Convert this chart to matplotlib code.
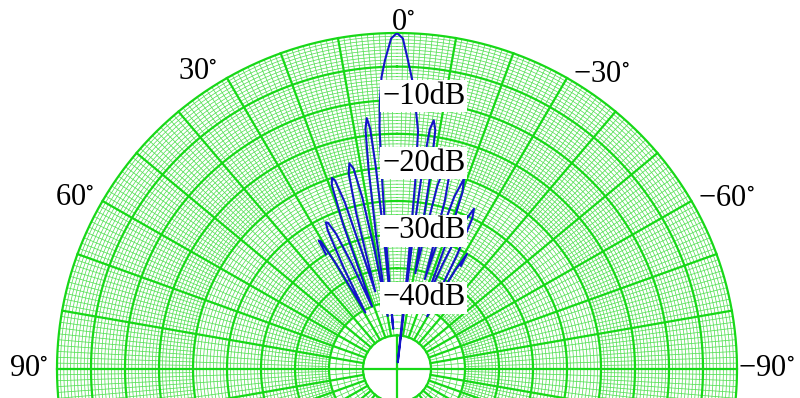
import numpy as np
import matplotlib.pyplot as plt

plt.rcParams['mathtext.fontset'] = 'stix'

# radiation pattern: angle (deg, positive to the left), level (dB)
pat_deg = [31.5, 31.0, 30.5, 29.8, 29.0, 27.5, 26.3, 25.6, 25.0, 24.0, 23.0,
           21.5, 20.2, 19.3, 18.6, 18.0, 17.2, 16.5,
           15.5, 14.5, 13.7, 12.9, 12.1, 11.3, 10.6,
           9.8, 8.8, 8.0, 7.4, 6.8, 6.3, 5.9, 5.6,
           5.3, 4.8, 4.4, 4.1, 3.6, 3.0, 2.2, 1.0, 0.0,
           -1.0, -2.0, -3.0, -3.8, -5.0, -5.5, -6.0, -6.3,
           -6.8, -7.2, -7.7, -8.3, -9.0, -9.6, -10.7,
           -11.5, -12.3, -13.2, -14.0, -14.8, -15.7, -17.0,
           -17.5, -18.2, -19.2, -20.1, -21.0, -22.5,
           -23.3, -24.3, -25.4, -26.3, -27.5, -29.5,
           -30.2, -31.0, -31.5]
pat_db = [-30, -27.7, -28, -32, -40.4, -33, -27, -25.8, -26, -28, -33,
          -40, -27, -21, -20, -20.5, -24, -32,
          -38, -26, -20, -18.6, -19.5, -24, -32,
          -42, -30, -20, -14, -12.4, -14, -20, -30,
          -44, -30, -20, -14, -10, -6.5, -4, -0.8, 0,
          -0.8, -4, -7, -10, -14.5, -22, -35, -49,
          -30, -20, -14, -12.6, -14, -20, -35.5,
          -30, -22, -19, -18.6, -19.5, -24, -36,
          -30, -23, -20, -22, -28, -40,
          -33, -26, -23.6, -25, -31, -41,
          -33, -30, -32]

r_min, r_max = -50, 0
ring_major = np.arange(-45, 1, 5)
spoke_major = np.arange(0, 360, 10)
angle_labels = [0, 30, 60, 90, -30, -60, -90]
db_labels = [-10, -20, -30, -40]

green = '#17d817'
green_minor = '#55e055'

fig = plt.figure(figsize=(8, 3.98), dpi=100)
ax = fig.add_axes([57 / 800, (29 - 336) / 398, 680 / 800, 672 / 398],
                  projection='polar')
ax.set_aspect('auto')
ax.set_theta_zero_location('N')
ax.set_theta_direction(1)
ax.set_rlim(r_min, r_max)
ax.grid(False)
ax.set_xticks([])
ax.set_yticks([])
ax.spines['polar'].set_visible(False)

full = np.linspace(0, 2 * np.pi, 1441)


def spokes(step, r0, r1, skip=10):
    th, rr = [], []
    for a in np.arange(0, 360, step):
        if a % skip == 0:
            continue
        th += [np.radians(a), np.radians(a), np.nan]
        rr += [r0, r1, np.nan]
    return th, rr


def rings(levels):
    th, rr = [], []
    for lv in levels:
        th += list(full) + [np.nan]
        rr += [lv] * len(full) + [np.nan]
    return th, rr


# fine grid, thinned towards the centre
minor_kw = dict(color=green_minor, lw=0.55, clip_on=False, zorder=1)
for step, r0, r1 in [(1, -20, 0), (2, -40, -20), (5, -45, -40)]:
    th, rr = spokes(step, r0, r1)
    ax.plot(th, rr, **minor_kw)
lv = [v for v in np.arange(-40, 0.01, 0.5) if v % 5 != 0]
lv += [v for v in np.arange(-45, -39.9, 1.0) if v % 5 != 0]
th, rr = rings(lv)
ax.plot(th, rr, **minor_kw)

# major grid
major_kw = dict(color=green, lw=1.6, clip_on=False, zorder=2)
th, rr = rings(ring_major)
ax.plot(th, rr, **major_kw)
th, rr = spokes(10, -45, 0, skip=1000)
ax.plot(th, rr, **major_kw)
for a in [0, 90, 180, 270]:
    ax.plot([np.radians(a)] * 2, [r_min, -45], **major_kw)

# pattern
ax.plot(np.radians(pat_deg), pat_db, color='#1414c8', lw=1.5, zorder=3)

# labels
serif = ['Liberation Serif', 'DejaVu Serif']
offsets = {0: (6, 11), 30: (-29, 7), 60: (-28, 3), 90: (-28, 0),
           -30: (34, 4), -60: (35, 3), -90: (29, 0)}
for a in angle_labels:
    txt = ('\u2212' if a < 0 else '') + f'{abs(a)}' + r'$^{\circ}$'
    ax.annotate(txt, xy=(np.radians(a), r_max), xytext=offsets[a],
                textcoords='offset pixels', ha='center', va='center',
                fontsize=22, family=serif, annotation_clip=False, zorder=5)
for d in db_labels:
    ax.annotate(f'\u2212{abs(d)}dB', xy=(0, d), xytext=(-15, 4),
                textcoords='offset pixels', ha='left', va='center',
                fontsize=22, family=serif, zorder=5,
                bbox=dict(boxstyle='square,pad=0.05', fc='white', ec='none'))

fig.savefig('out.png', dpi=100)
